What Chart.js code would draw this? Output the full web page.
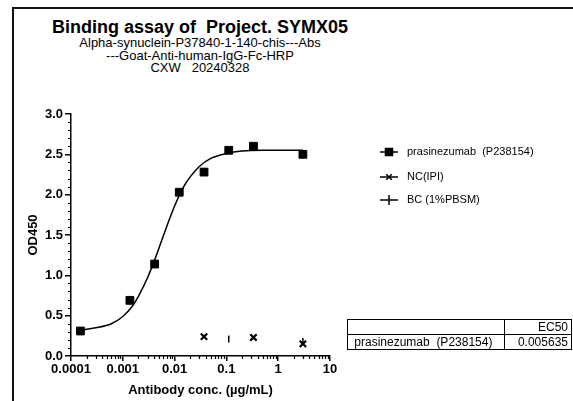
<!DOCTYPE html>
<html>
<head>
<meta charset="utf-8">
<script src="https://cdn.jsdelivr.net/npm/chart.js@4/dist/chart.umd.min.js"></script>
<style>
  body { margin: 0; background: #fff; }
  #wrap { position: relative; width: 573px; height: 401px; overflow: hidden; font-family: Arial, "Liberation Sans", sans-serif; color: #000; }
  #frame { position: absolute; left: 12px; top: 7px; width: 600px; height: 420px; border-left: 2px solid #111; border-top: 2px solid #111; }
  .ttl { position: absolute; left: 0; width: 400px; text-align: center; white-space: pre; }
  #t1 { top: 18px; font-size: 18px; font-weight: bold; line-height: 18px; }
  #t2 { top: 37px; font-size: 13px; line-height: 12.5px; }
  #ec { position: absolute; left: 347px; top: 319px; border-collapse: collapse; font-size: 12px; }
  #ec td { border: 1px solid #000; padding: 0 3px; height: 14px; line-height: 13px; white-space: pre; }
  canvas { position: absolute; left: 0; top: 0; }
</style>
</head>
<body>
<div id="wrap">
  <div id="frame"></div>
  <div class="ttl" id="t1">Binding assay of  Project. SYMX05</div>
  <div class="ttl" id="t2">Alpha-synuclein-P37840-1-140-chis---Abs
---Goat-Anti-human-IgG-Fc-HRP
CXW   20240328</div>
  <canvas id="c" width="573" height="401"></canvas>
  <table id="ec">
    <tr><td style="width:150px"></td><td style="width:60px;text-align:right">EC50</td></tr>
    <tr><td> prasinezumab  (P238154)</td><td style="text-align:right">0.005635</td></tr>
  </table>
</div>
<script>
// measured points
const sampleName = 'prasinezumab  (P238154)';
const sampleConc = [0.000152, 0.00137, 0.00412, 0.0123, 0.037, 0.111, 0.333, 3];
const sampleOD = [0.31, 0.69, 1.14, 2.03, 2.28, 2.55, 2.60, 2.50];

const ncName = 'NC(IPI)';
const ncConc = [0.037, 0.333, 3];
const ncOD = [0.24, 0.23, 0.15];

const bcName = 'BC (1%PBSM)';
const bcConc = [0.111, 3];
const bcOD = [0.21, 0.18];

// fitted curve
const fitConc = [0.00015, 0.0003, 0.0006, 0.001, 0.0015, 0.002, 0.003, 0.004, 0.005, 0.007, 0.01, 0.015, 0.02, 0.03, 0.05, 0.1, 0.2, 0.5, 3];
const fitOD = [0.32, 0.35, 0.40, 0.49, 0.61, 0.74, 0.97, 1.17, 1.34, 1.60, 1.86, 2.10, 2.22, 2.35, 2.45, 2.51, 2.54, 2.55, 2.55];

// axis ticks
const xTicks = [0.0001, 0.001, 0.01, 0.1, 1, 10];
const xTickLabels = ['0.0001', '0.001', '0.01', '0.1', '1', '10'];
const yTicks = [0, 0.5, 1, 1.5, 2, 2.5, 3];

const pts = (xs, ys) => xs.map((x, i) => ({ x: x, y: ys[i] }));
const FONT = 'Arial, "Liberation Sans", sans-serif';

const minorTicks = {
    id: 'minorTicks',
    afterDraw(chart) {
        const ctx = chart.ctx;
        const xs = chart.scales.x, ys = chart.scales.y;
        ctx.save();
        ctx.strokeStyle = '#000';
        ctx.lineWidth = 1.2;
        ctx.beginPath();
        for (let k = -4; k < 1; k++) {
            for (let m = 2; m <= 9; m++) {
                const px = Math.round(xs.getPixelForValue(m * Math.pow(10, k))) + 0.5;
                ctx.moveTo(px, xs.top);
                ctx.lineTo(px, xs.top + 3);
            }
        }
        for (let i = 1; i < 30; i++) {
            if (i % 5 === 0) continue;
            const py = Math.round(ys.getPixelForValue(i / 10)) + 0.5;
            ctx.moveTo(ys.right, py);
            ctx.lineTo(ys.right - 3, py);
        }
        ctx.stroke();
        ctx.restore();
    }
};

const sideLegend = {
    id: 'sideLegend',
    afterDraw(chart) {
        const ctx = chart.ctx;
        const rows = [152, 177, 200];
        [1, 2, 3].forEach((di, i) => {
            const ds = chart.data.datasets[di];
            const y = rows[i];
            ctx.save();
            ctx.strokeStyle = '#000';
            ctx.fillStyle = '#000';
            ctx.lineWidth = 1.5;
            ctx.beginPath();
            ctx.moveTo(380, y);
            ctx.lineTo(398, y);
            ctx.stroke();
            Chart.helpers.drawPoint(ctx, {
                pointStyle: ds.pointStyle,
                rotation: ds.pointRotation || 0,
                radius: ds.legendRadius,
                borderWidth: ds.borderWidth
            }, 389, y);
            ctx.font = '11px ' + FONT;
            ctx.textBaseline = 'middle';
            ctx.fillText(ds.label, 407, y);
            ctx.restore();
        });
    }
};

new Chart(document.getElementById('c'), {
    type: 'scatter',
    data: {
        datasets: [
            {
                label: 'fit',
                data: pts(fitConc, fitOD),
                showLine: true,
                pointRadius: 0,
                borderColor: '#000',
                borderWidth: 1.5,
                cubicInterpolationMode: 'monotone'
            },
            {
                label: sampleName,
                data: pts(sampleConc, sampleOD),
                pointStyle: 'rect',
                pointRadius: 5.5,
                legendRadius: 5,
                backgroundColor: '#000',
                borderColor: '#000',
                borderWidth: 1
            },
            {
                label: ncName,
                data: pts(ncConc, ncOD),
                pointStyle: 'crossRot',
                pointRadius: 4.5,
                legendRadius: 4,
                backgroundColor: '#000',
                borderColor: '#000',
                borderWidth: 2.2
            },
            {
                label: bcName,
                data: pts(bcConc, bcOD),
                pointStyle: 'line',
                pointRotation: 90,
                pointRadius: 3.5,
                legendRadius: 5,
                backgroundColor: '#000',
                borderColor: '#000',
                borderWidth: 1.5
            }
        ]
    },
    options: {
        responsive: false,
        animation: false,
        layout: { padding: { left: 22, top: 114, right: 243, bottom: 3 } },
        plugins: { legend: { display: false }, tooltip: { enabled: false } },
        scales: {
            x: {
                type: 'logarithmic',
                min: 0.0001,
                max: 10,
                afterBuildTicks: (s) => { s.ticks = xTicks.map(v => ({ value: v })); },
                afterFit: (s) => { s.height = 42; },
                ticks: {
                    color: '#000',
                    font: { family: FONT, size: 13, weight: 'bold' },
                    padding: 1,
                    maxRotation: 0,
                    autoSkip: false,
                    callback: (v) => xTickLabels[xTicks.indexOf(v)]
                },
                grid: { drawOnChartArea: false, color: '#000', lineWidth: 1.5, tickLength: 5 },
                border: { color: '#000', width: 1.5 },
                title: {
                    display: true,
                    text: 'Antibody conc. (µg/mL)',
                    color: '#000',
                    font: { family: FONT, size: 13, weight: 'bold' },
                    padding: { top: 0, bottom: 0 }
                }
            },
            y: {
                min: 0,
                max: 3,
                afterBuildTicks: (s) => { s.ticks = yTicks.map(v => ({ value: v })); },
                afterFit: (s) => { s.width = 49; },
                ticks: {
                    color: '#000',
                    font: { family: FONT, size: 13, weight: 'bold' },
                    padding: 2,
                    callback: (v) => v.toFixed(1)
                },
                grid: { drawOnChartArea: false, color: '#000', lineWidth: 1.5, tickLength: 6 },
                border: { color: '#000', width: 1.5 },
                title: {
                    display: true,
                    text: 'OD450',
                    color: '#000',
                    font: { family: FONT, size: 13, weight: 'bold' },
                    padding: { top: 4, bottom: 0 }
                }
            }
        }
    },
    plugins: [minorTicks, sideLegend]
});
</script>
</body>
</html>
